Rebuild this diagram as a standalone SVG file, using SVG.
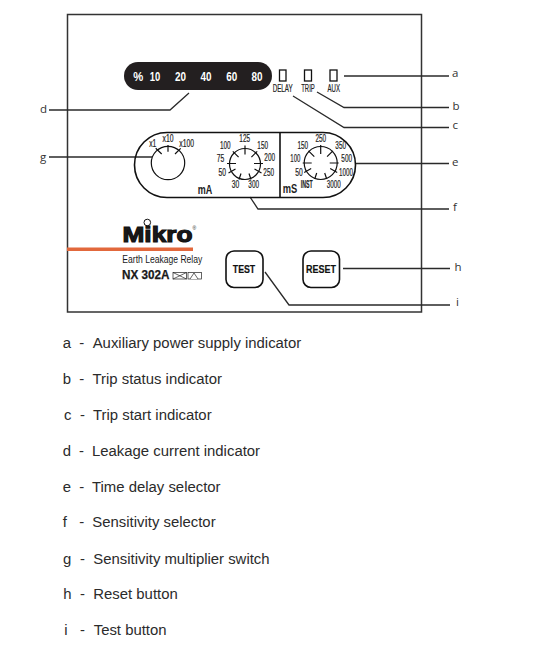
<svg xmlns="http://www.w3.org/2000/svg" xmlns:xlink="http://www.w3.org/1999/xlink" width="540" height="655" viewBox="0 0 540 655">
<style>
text{font-family:"Liberation Sans",Arial,sans-serif;fill:#1a1a1a}
.cn{fill:none;stroke:#2a2a2a;stroke-width:1.3}
.ln{fill:none;stroke:#111;stroke-width:1.6}
.dc{fill:none;stroke:#111;stroke-width:1.2}
.tk{fill:none;stroke:#111;stroke-width:1.2}
.p{font-size:12.5px;font-weight:700;fill:#fff;text-anchor:middle}
.s{font-size:10px;text-anchor:middle;fill:#222;stroke:#222;stroke-width:.2}
.ll{font-family:"Open Sans",sans-serif;font-size:11.5px;fill:#333}
.li{font-size:14.9px;fill:#2b2b2b}
.il{font-size:10px;text-anchor:middle;fill:#222;stroke:#222;stroke-width:.2}
.u{font-size:12px;font-weight:700;fill:#222;text-anchor:middle}
.b{font-size:10.500px;font-weight:700;text-anchor:middle;fill:#111;stroke:#111;stroke-width:.2}
.led{fill:#fff;stroke:#111;stroke-width:1.3}
.btn{fill:#fff;stroke:#111;stroke-width:1.6}
</style>
<defs>
<path id="dial-ticks" class="tk" d="M0 -9V-18M6.400 -6.400L12.200 -12.200M-6.400 -6.400L-12.200 -12.200M9 0H18M-9 0H-18M9.500 5.500L16.500 9.500M-9.500 5.500L-16.500 9.500M4 10L6 16M-4 10L-6 16"/>
</defs>
<rect id="frame" x="67.500" y="14.500" width="354" height="297.500" fill="#fff" stroke="#333" stroke-width="1.500"/>
<g id="connectors">
<path class="cn" d="M344 76H449"/>
<path class="cn" d="M317 92L344 107.500H449"/>
<path class="cn" d="M293 96L344 127.500H449"/>
<path class="cn" d="M49 110H170L189 93"/>
<path class="cn" d="M356 163.500H449"/>
<path class="cn" d="M250 197L258 209H449"/>
<path class="cn" d="M49 157H152"/>
<path class="cn" d="M343 268.500H450"/>
<path class="cn" d="M265 272L289 305H450"/>
</g>
<g id="leakage-indicator">
<rect x="124" y="62" width="148" height="28" rx="14" fill="#231f20"/>
<text class="p" x="138.300" y="80.700" textLength="10" lengthAdjust="spacingAndGlyphs">%</text>
<text class="p" x="155" y="80.700" textLength="10.500" lengthAdjust="spacingAndGlyphs">10</text>
<text class="p" x="180.500" y="80.700" textLength="11" lengthAdjust="spacingAndGlyphs">20</text>
<text class="p" x="206" y="80.700" textLength="11" lengthAdjust="spacingAndGlyphs">40</text>
<text class="p" x="231.800" y="80.700" textLength="11" lengthAdjust="spacingAndGlyphs">60</text>
<text class="p" x="257" y="80.700" textLength="11" lengthAdjust="spacingAndGlyphs">80</text>
</g>
<g id="delay-led"><rect class="led" x="279.500" y="70" width="6.500" height="11"/><text class="il" x="282.700" y="91.700" textLength="20" lengthAdjust="spacingAndGlyphs">DELAY</text></g>
<g id="trip-led"><rect class="led" x="304.500" y="70" width="7" height="11"/><text class="il" x="308" y="91.700" textLength="13.500" lengthAdjust="spacingAndGlyphs">TRIP</text></g>
<g id="aux-led"><rect class="led" x="330" y="70" width="7" height="11"/><text class="il" x="333.700" y="91.700" textLength="12.500" lengthAdjust="spacingAndGlyphs">AUX</text></g>
<g id="selector-panel">
<path class="ln" d="M167 132.500H323A32.500 32.500 0 0 1 323 197.500H167A32.500 32.500 0 0 1 167 132.500Z"/>
<path class="ln" d="M280 132.500V197.500"/>
</g>
<g id="multiplier-switch">
<circle class="dc" cx="168" cy="163" r="16.700"/>
<path class="tk" d="M168 145V151.700M155.700 148.300L161.700 154M180.700 148.300L175 154"/>
<text class="s" x="152.700" y="146.700" textLength="7" lengthAdjust="spacingAndGlyphs">x1</text>
<text class="s" x="168" y="142.300" textLength="11" lengthAdjust="spacingAndGlyphs">x10</text>
<text class="s" x="186.700" y="146.700" textLength="14.700" lengthAdjust="spacingAndGlyphs">x100</text>
</g>
<g id="sensitivity-selector">
<circle class="dc" cx="245" cy="164" r="15.500"/>
<use xlink:href="#dial-ticks" href="#dial-ticks" x="245" y="163.500"/>
<text class="s" x="244.700" y="142.300" textLength="10.700" lengthAdjust="spacingAndGlyphs">125</text>
<text class="s" x="225.300" y="149" textLength="10.700" lengthAdjust="spacingAndGlyphs">100</text>
<text class="s" x="262.700" y="149" textLength="10.700" lengthAdjust="spacingAndGlyphs">150</text>
<text class="s" x="220.500" y="161.700" textLength="7.500" lengthAdjust="spacingAndGlyphs">75</text>
<text class="s" x="269.700" y="161" textLength="10.700" lengthAdjust="spacingAndGlyphs">200</text>
<text class="s" x="222.300" y="175.700" textLength="7.500" lengthAdjust="spacingAndGlyphs">50</text>
<text class="s" x="268.700" y="175.700" textLength="10.700" lengthAdjust="spacingAndGlyphs">250</text>
<text class="s" x="235.500" y="188.300" textLength="7.500" lengthAdjust="spacingAndGlyphs">30</text>
<text class="s" x="253.700" y="188.300" textLength="10.700" lengthAdjust="spacingAndGlyphs">300</text>
<text class="u" x="205" y="194" textLength="14.500" lengthAdjust="spacingAndGlyphs">mA</text>
</g>
<g id="delay-selector">
<circle class="dc" cx="320.700" cy="163" r="16.500"/>
<use xlink:href="#dial-ticks" href="#dial-ticks" x="320.700" y="163"/>
<text class="s" x="320.800" y="142.300" textLength="10.700" lengthAdjust="spacingAndGlyphs">250</text>
<text class="s" x="302.800" y="149" textLength="10.700" lengthAdjust="spacingAndGlyphs">150</text>
<text class="s" x="340.700" y="149" textLength="10.700" lengthAdjust="spacingAndGlyphs">350</text>
<text class="s" x="295.300" y="161.700" textLength="10" lengthAdjust="spacingAndGlyphs">100</text>
<text class="s" x="346.700" y="161.700" textLength="10.700" lengthAdjust="spacingAndGlyphs">500</text>
<text class="s" x="299" y="175.700" textLength="7.500" lengthAdjust="spacingAndGlyphs">50</text>
<text class="s" x="346" y="175.700" textLength="14" lengthAdjust="spacingAndGlyphs">1000</text>
<text class="s" x="306.800" y="187.700" font-weight="700" textLength="12" lengthAdjust="spacingAndGlyphs">INST</text>
<text class="s" x="333.800" y="187.700" textLength="14" lengthAdjust="spacingAndGlyphs">3000</text>
<text class="u" x="290" y="193" textLength="14.500" lengthAdjust="spacingAndGlyphs">mS</text>
</g>
<g id="brand">
<rect x="67" y="247.500" width="126" height="3.500" fill="#e2683c"/>
<text x="122.500" y="242" font-size="21.500" font-weight="700" style="stroke:#111;stroke-width:1.100" fill="#111" textLength="70" lengthAdjust="spacingAndGlyphs">Mikro</text>
<circle cx="147.300" cy="222.500" r="3.300" fill="none" stroke="#111" stroke-width="1"/>
<text x="192.500" y="229.500" font-size="5" fill="#555">®</text>
<text x="122.300" y="263.300" font-size="11" fill="#222" textLength="80" lengthAdjust="spacingAndGlyphs">Earth Leakage Relay</text>
<text x="122" y="279.300" font-size="12.500" font-weight="700" style="stroke:#111;stroke-width:.25" fill="#111" textLength="47.500" lengthAdjust="spacingAndGlyphs">NX 302A</text>
<g fill="#fff" stroke="#222" stroke-width=".7">
<rect x="173" y="272.500" width="13.500" height="6.500"/><path d="M173 272.500L186.500 279M173 279L186.500 272.500"/>
<rect x="188" y="272.500" width="13.500" height="6.500"/><path d="M190 279L194 273L198 279"/>
</g>
</g>
<g id="test-button"><rect class="btn" x="226" y="251" width="37" height="36.500" rx="8"/><text class="b" x="244" y="272.700" textLength="22.500" lengthAdjust="spacingAndGlyphs">TEST</text></g>
<g id="reset-button"><rect class="btn" x="303" y="251" width="36.500" height="36.500" rx="8"/><text class="b" x="321" y="272.700" textLength="30" lengthAdjust="spacingAndGlyphs">RESET</text></g>
<g id="callouts">
<text class="ll" x="452" y="77">a</text>
<text class="ll" x="452.500" y="110">b</text>
<text class="ll" x="452.500" y="129">c</text>
<text class="ll" x="40" y="113">d</text>
<text class="ll" x="452" y="166">e</text>
<text class="ll" x="453" y="210.500">f</text>
<text class="ll" x="40" y="161">g</text>
<text class="ll" x="454.500" y="271">h</text>
<text class="ll" x="456" y="306">i</text>
</g>
<g id="legend">
<text class="li" x="62.700" y="347.700">a</text><text class="li" x="79.300" y="347.700">-</text><text class="li" x="92.700" y="347.700">Auxiliary power supply indicator</text>
<text class="li" x="62.700" y="384">b</text><text class="li" x="79.300" y="384">-</text><text class="li" x="92.500" y="384">Trip status indicator</text>
<text class="li" x="64" y="420">c</text><text class="li" x="80" y="420">-</text><text class="li" x="93" y="420">Trip start indicator</text>
<text class="li" x="62.700" y="456">d</text><text class="li" x="79" y="456">-</text><text class="li" x="92" y="456">Leakage current indicator</text>
<text class="li" x="62.700" y="492">e</text><text class="li" x="79.300" y="492">-</text><text class="li" x="92" y="492">Time delay selector</text>
<text class="li" x="62.700" y="526.700">f</text><text class="li" x="79.300" y="526.700">-</text><text class="li" x="92.300" y="526.700">Sensitivity selector</text>
<text class="li" x="63" y="564">g</text><text class="li" x="80" y="564">-</text><text class="li" x="93.300" y="564">Sensitivity multiplier switch</text>
<text class="li" x="63.300" y="599">h</text><text class="li" x="80" y="599">-</text><text class="li" x="93.300" y="599">Reset button</text>
<text class="li" x="64.300" y="635">i</text><text class="li" x="80" y="635">-</text><text class="li" x="93.700" y="635">Test button</text>
</g>
</svg>
